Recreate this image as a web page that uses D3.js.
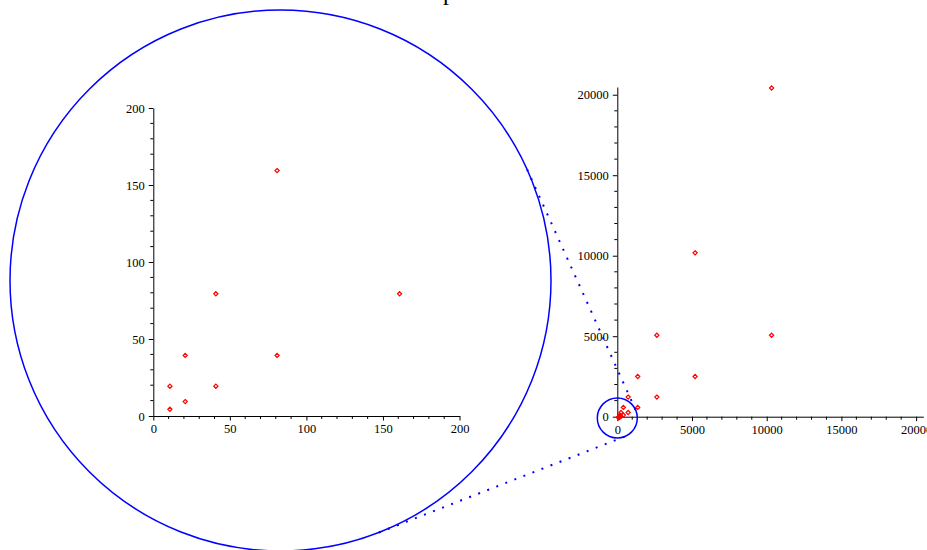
<!DOCTYPE html>
<html>
<head>
<meta charset="utf-8">
<script src="https://cdn.jsdelivr.net/npm/d3@7"></script>
<style>
  body { margin: 0; background: #fff; }
  svg { display: block; font-family: "Liberation Serif", "DejaVu Serif", serif; }
</style>
</head>
<body>
<svg id="chart" width="927" height="550"></svg>
<script>
// data: pairs (x, x/2) and (x, 2x) for x = 10 .. 10240
const ptX = [10, 10, 20, 20, 40, 40, 80, 80, 160, 160, 320, 320, 640, 640,
             1280, 1280, 2560, 2560, 5120, 5120, 10240, 10240];
const ptY = [5, 20, 10, 40, 20, 80, 40, 160, 80, 320, 160, 640, 320, 1280,
             640, 2560, 1280, 5120, 2560, 10240, 5120, 20480];

// tick labels
const zoomTicks = [0, 50, 100, 150, 200];
const fullTicks = [0, 5000, 10000, 15000, 20000];
const titleText = "Scatter plot with zoom inset";

const points = ptX.map((x, i) => ({ x: x, y: ptY[i] }));
const svg = d3.select("#chart");

// ── scales ─────────────────────────────────────────────
const xL = d3.scaleLinear().domain([0, 200]).range([153.3, 459.5]);
const yL = d3.scaleLinear().domain([0, 200]).range([416, 108]);
const xR = d3.scaleLinear().domain([0, 20480]).range([617.3, 923.3]);
const yR = d3.scaleLinear().domain([0, 20480]).range([416.7, 87]);

// title (sits mostly above the frame, only the descender shows)
const title = svg.append("text")
  .attr("x", 0).attr("y", 0)
  .style("font-size", "24px")
  .text(titleText);
const pIdx = titleText.indexOf("p");
const pX = title.node().getStartPositionOfChar(pIdx).x;
title.attr("x", 443 - pX);

// ── axes helper ────────────────────────────────────────
function drawAxes(xs, ys, major, minorStep) {
  const g = svg.append("g");
  const minorX = d3.range(0, xs.domain()[1] + 1e-9, minorStep).filter(v => !major.includes(v));
  const minorY = d3.range(0, ys.domain()[1] + 1e-9, minorStep).filter(v => !major.includes(v));
  const fmt = d3.format("d");

  const ax = g.append("g")
    .attr("transform", `translate(0,${ys(0)})`)
    .call(d3.axisBottom(xs).tickValues(major).tickFormat(fmt)
      .tickSize(4.5).tickSizeOuter(0).tickPadding(4));
  ax.append("g").selectAll("line")
    .data(minorX)
    .join("line")
      .attr("x1", d => xs(d)).attr("x2", d => xs(d))
      .attr("y1", 0).attr("y2", 3)
      .attr("stroke", "#000");

  const ay = g.append("g")
    .attr("transform", `translate(${xs(0)},0)`)
    .call(d3.axisLeft(ys).tickValues(major).tickFormat(fmt)
      .tickSize(4.5).tickSizeOuter(0).tickPadding(4));
  ay.append("g").selectAll("line")
    .data(minorY)
    .join("line")
      .attr("y1", d => ys(d)).attr("y2", d => ys(d))
      .attr("x1", 0).attr("x2", -3)
      .attr("stroke", "#000");

  g.selectAll(".tick text")
    .style("font-size", "12.5px")
    .style("font-family", "Liberation Serif, serif")
    .attr("fill", "#000");
  return g;
}

drawAxes(xL, yL, zoomTicks, 10);
drawAxes(xR, yR, fullTicks, 1000);

// ── points ─────────────────────────────────────────────
const diamond = d3.symbol().type(d3.symbolDiamond2).size(11);

svg.append("g").selectAll("path")
  .data(points.filter(d => d.x <= 200 && d.y <= 200))
  .join("path")
    .attr("d", diamond)
    .attr("transform", d => `translate(${xL(d.x) + 1.3},${yL(d.y) + 1})`)
    .attr("fill", "none")
    .attr("stroke", "#ff0000")
    .attr("stroke-width", 1.2);

svg.append("g").selectAll("path")
  .data(points)
  .join("path")
    .attr("d", diamond)
    .attr("transform", d => `translate(${xR(d.x) + 1.3},${yR(d.y) + 1})`)
    .attr("fill", "none")
    .attr("stroke", "#ff0000")
    .attr("stroke-width", 1.2);

// ── zoom circles + tangent connectors ──────────────────
const big   = { cx: 280.5, cy: 280.5, r: 270.5 };
const small = { cx: xR(0), cy: yR(0) + 1.3, r: 20 };

svg.append("circle")
  .attr("cx", big.cx).attr("cy", big.cy).attr("r", big.r)
  .attr("fill", "none").attr("stroke", "#0000ff").attr("stroke-width", 1.5);
svg.append("circle")
  .attr("cx", small.cx).attr("cy", small.cy).attr("r", small.r)
  .attr("fill", "none").attr("stroke", "#0000ff").attr("stroke-width", 1.5);

// external tangent lines between the two circles
const dx = small.cx - big.cx, dy = small.cy - big.cy;
const dist = Math.hypot(dx, dy);
const base = Math.atan2(dy, dx);
const alpha = Math.acos((big.r - small.r) / dist);
[base - alpha, base + alpha].forEach(a => {
  const nx = Math.cos(a), ny = Math.sin(a);
  svg.append("line")
    .attr("x1", big.cx + big.r * nx).attr("y1", big.cy + big.r * ny)
    .attr("x2", small.cx + small.r * nx).attr("y2", small.cy + small.r * ny)
    .attr("stroke", "#0000ff")
    .attr("stroke-width", 2)
    .attr("stroke-dasharray", "2,7.7");
});
</script>
</body>
</html>
